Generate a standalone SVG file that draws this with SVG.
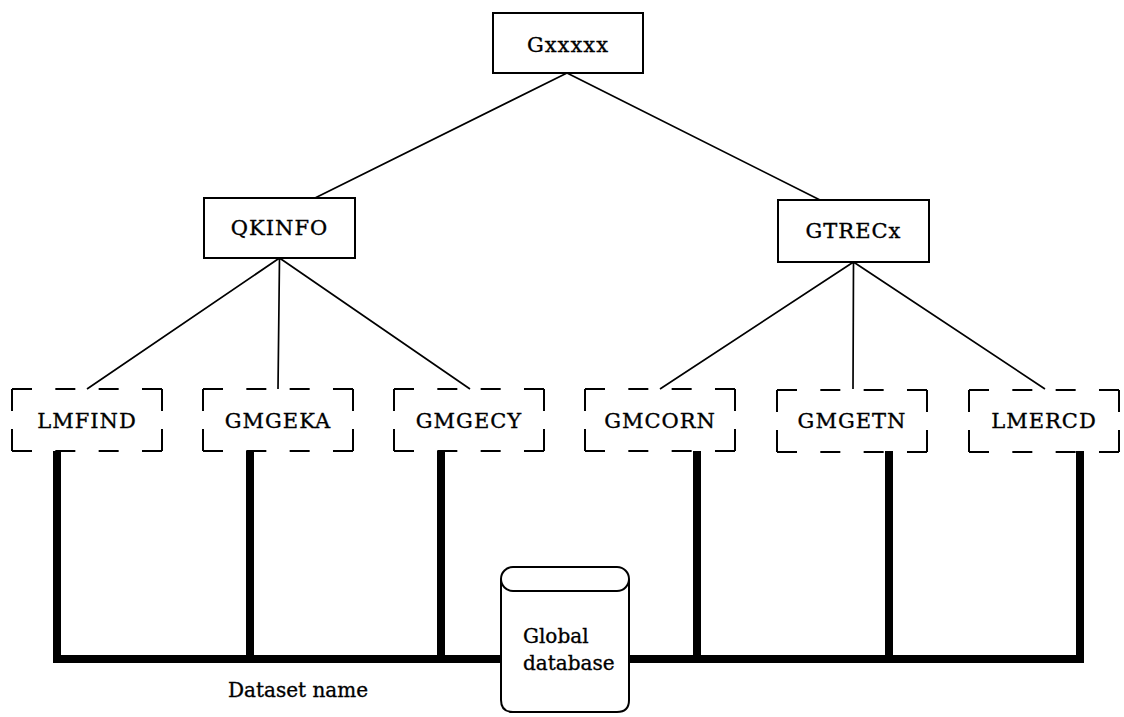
<svg xmlns="http://www.w3.org/2000/svg" xmlns:xlink="http://www.w3.org/1999/xlink" width="1124" height="717" viewBox="0 0 1124 717">
<style>
.box{fill:#fff;stroke:#000;stroke-width:2}
.dh{stroke:#000;stroke-width:2;stroke-dasharray:20 23.33}
.dv{stroke:#000;stroke-width:2;stroke-dasharray:22 18}
.thin{stroke:#000;stroke-width:1.7;fill:none}
.thick{stroke:#000;stroke-width:8;fill:none;stroke-linejoin:miter;stroke-linecap:butt}
.lbl{font-family:"DejaVu Serif","Liberation Serif",serif;font-size:21px;text-anchor:middle;fill:#000;stroke:#000;stroke-width:0.35;letter-spacing:1px}
.txt{font-family:"DejaVu Serif","Liberation Serif",serif;font-size:20px;fill:#000;stroke:#000;stroke-width:0.35}
</style>
<defs>
<g id="dbox">
<line class="dh" x1="0" y1="0" x2="150" y2="0"/>
<line class="dh" x1="0" y1="62" x2="150" y2="62"/>
<line class="dv" x1="0" y1="0" x2="0" y2="62"/>
<line class="dv" x1="150" y1="0" x2="150" y2="62"/>
</g>
</defs>
<rect width="1124" height="717" fill="#fff"/>
<g id="connectors">
<path class="thin" d="M567,73 L315,198 M567,73 L820,200"/>
<path class="thin" d="M279.5,258 L87,389 M279.5,258 L278,389 M279.5,258 L470,389"/>
<path class="thin" d="M853.5,262 L660,389 M853.5,262 L853,389 M853.5,262 L1045,389"/>
<path class="thick" d="M57,451 V659 H502 M250,451 V659 M441,451 V659"/>
<path class="thick" d="M628,659 H1080 V451 M697,451 V659 M889,451 V659"/>
</g>
<g id="n-gxxxxx">
<rect class="box" x="493" y="13" width="150" height="60"/>
<text class="lbl" x="568" y="52">Gxxxxx</text>
</g>
<g id="n-qkinfo">
<rect class="box" x="204" y="198" width="151" height="60"/>
<text class="lbl" x="279.5" y="235">QKINFO</text>
</g>
<g id="n-gtrecx">
<rect class="box" x="778" y="200" width="151" height="62"/>
<text class="lbl" x="853.5" y="238">GTRECx</text>
</g>
<g id="n-lmfind">
<use xlink:href="#dbox" x="12" y="389"/>
<text class="lbl" x="87" y="428">LMFIND</text>
</g>
<g id="n-gmgeka">
<use xlink:href="#dbox" x="203" y="389"/>
<text class="lbl" x="278" y="428">GMGEKA</text>
</g>
<g id="n-gmgecy">
<use xlink:href="#dbox" x="394" y="389"/>
<text class="lbl" x="469" y="428">GMGECY</text>
</g>
<g id="n-gmcorn">
<use xlink:href="#dbox" x="585" y="389"/>
<text class="lbl" x="660" y="428">GMCORN</text>
</g>
<g id="n-gmgetn">
<use xlink:href="#dbox" x="777" y="390"/>
<text class="lbl" x="852" y="428">GMGETN</text>
</g>
<g id="n-lmercd">
<use xlink:href="#dbox" x="969" y="390"/>
<text class="lbl" x="1044" y="428">LMERCD</text>
</g>
<g id="n-database">
<path class="box" d="M501,579 V700 Q501,712 513,712 H617 Q629,712 629,700 V579"/>
<rect class="box" x="501" y="567" width="128" height="24" rx="12" ry="12"/>
<text class="txt" x="523" y="643">Global</text>
<text class="txt" x="523" y="670">database</text>
</g>
<g id="lbl-dataset">
<text class="txt" x="298" y="697" text-anchor="middle">Dataset name</text>
</g>
</svg>
